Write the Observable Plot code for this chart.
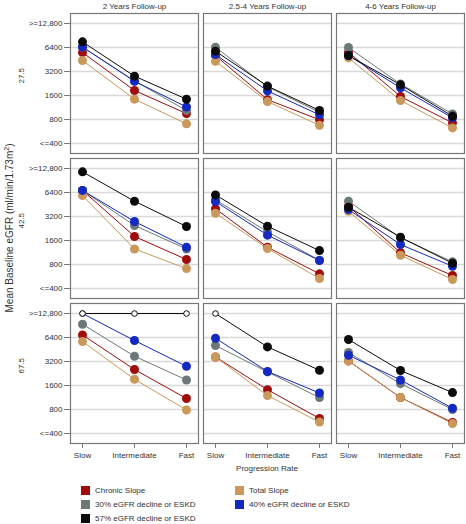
<!DOCTYPE html>
<html><head><meta charset="utf-8">
<script src="https://cdn.jsdelivr.net/npm/d3@7"></script>
<script src="https://cdn.jsdelivr.net/npm/@observablehq/plot@0.6"></script>
<style>
body{margin:0;background:#fff;font-family:"Liberation Sans",Arial,sans-serif;}
#chart{position:relative;width:466px;height:524px;}
#chart svg{position:absolute;left:0;top:0;}
.legend{position:absolute;left:81px;top:486px;display:grid;grid-template-columns:154px 200px;row-gap:5px;font-size:8px;color:#333;}
.item{display:flex;align-items:center;height:9px;white-space:nowrap;}
.sw{width:9px;height:9px;margin-right:5px;flex:none;}
</style></head><body><div id="chart"></div>
<script>
const columns = ["2 Years Follow-up", "2.5-4 Years Follow-up", "4-6 Years Follow-up"];
const rows = ["27.5", "42.5", "67.5"];
const rates = ["Slow", "Intermediate", "Fast"];
const yTicks = [400, 800, 1600, 3200, 6400, 12800];
const cap = 12800;

// series in drawing / legend order
const seriesNames = ["Chronic Slope", "Total Slope", "30% eGFR decline or ESKD", "40% eGFR decline or ESKD", "57% eGFR decline or ESKD"];
const seriesColors = ["#a00c0c", "#c9985a", "#6d7878", "#1428c2", "#0b0b0b"];

// each: 9 panels (row-major: 27.5 → 67.5, columns left → right), values for Slow, Intermediate, Fast
const chronicSlope = [
  [5540, 1850, 950], [5080, 1420, 795], [5590, 1555, 727],
  [6800, 1800, 925], [4000, 1320, 612], [4310, 1124, 582],
  [6900, 2540, 1100], [3650, 1420, 617], [3255, 1130, 550]
];
const totalSlope = [
  [4400, 1440, 707], [4310, 1345, 677], [4750, 1384, 628],
  [5870, 1255, 711], [3520, 1270, 534], [3730, 1047, 519],
  [5700, 1920, 790], [3650, 1196, 558], [3255, 1130, 533]
];
const decline30 = [
  [6500, 2440, 1040], [6450, 2060, 987], [6400, 2230, 942],
  [6800, 2470, 1255], [5200, 2060, 906], [4980, 1730, 865],
  [9400, 3730, 1880], [5080, 2370, 1130], [4150, 1690, 800]
];
const decline40 = [
  [6500, 2420, 1150], [5220, 1830, 916], [5080, 2000, 841],
  [6800, 2770, 1320], [4940, 1870, 900], [3920, 1425, 762],
  [12800, 5870, 2790], [6270, 2400, 1290], [3840, 1880, 830]
];
const decline57 = [
  [7540, 2800, 1440], [5760, 2100, 1040], [5080, 2180, 881],
  [11640, 4980, 2400], [5980, 2420, 1196], [4190, 1760, 830],
  [12800, 12800, 12800], [12800, 4880, 2490], [6040, 2470, 1306]
];
const seriesValues = [chronicSlope, totalSlope, decline30, decline40, decline57];

const records = [];
seriesNames.forEach((s, si) => {
  seriesValues[si].forEach((triple, k) => {
    const row = rows[Math.floor(k / 3)], col = columns[k % 3];
    triple.forEach((v, j) => records.push({series: s, row, col, rate: rates[j], value: v, capped: v >= cap}));
  });
});

const tickFormat = v => v === 400 ? "<=400" : v === 12800 ? ">=12,800" : String(v);
const enc = {fx: "col", fy: "row", x: "rate", y: "value"};

const chart = Plot.plot({
  width: 466, height: 476,
  marginTop: 13, marginLeft: 69, marginRight: 1, marginBottom: 33,
  style: {fontFamily: "Liberation Sans, Arial, sans-serif", fontSize: "8px", color: "#333", background: "#fff"},
  fx: {domain: columns, paddingInner: 0.035, paddingOuter: 0, label: null},
  fy: {domain: rows, paddingInner: 0.035, paddingOuter: 0, axis: null, label: null},
  x: {type: "point", domain: rates, padding: 0.21, label: null},
  y: {type: "log", domain: [300, 17100], label: null},
  color: {domain: seriesNames, range: seriesColors},
  marks: [
    Plot.gridY(yTicks, {stroke: "#d9d9d9", strokeOpacity: 1, strokeWidth: 1.5}),
    Plot.frame({stroke: "#777", strokeWidth: 1.2}),
    Plot.axisFx({anchor: "top", tickSize: 0, tickPadding: 5, label: null}),
    Plot.axisY(yTicks, {anchor: "left", tickSize: 6, tickFormat: () => "", label: null, stroke: "#777"}),
    Plot.text(yTicks, {fx: () => columns[0], y: d => d, text: tickFormat, frameAnchor: "left", textAnchor: "end", dx: -8, fill: "#333"}),
    Plot.axisX({anchor: "bottom", tickSize: 5, tickPadding: 4, label: null, stroke: "#777", fill: "#333"}),
    Plot.text(rows, {fx: () => columns[0], fy: d => d, text: d => d, frameAnchor: "left", rotate: -90, dx: -49, fill: "#333"}),
    Plot.line(records, {...enc, z: "series", stroke: "series", strokeWidth: 1}),
    Plot.dot(records.filter(d => !d.capped), {...enc, fill: "series", r: 4.5}),
    Plot.dot(records.filter(d => d.capped), {...enc, stroke: "series", fill: "white", r: 2.8, strokeWidth: 1})
  ]
});

const root = document.getElementById("chart");
root.appendChild(chart);
const svg = d3.select(chart);
const yt = svg.append("text")
  .attr("transform", "translate(13,228) rotate(-90)")
  .attr("text-anchor", "middle").attr("font-size", 10).attr("fill", "#333")
  .text("Mean Baseline eGFR (ml/min/1.73m");
yt.append("tspan").attr("font-size", 7).attr("dy", -4).text("2");
yt.append("tspan").attr("dy", 4).text(")");
svg.append("text").attr("x", 267).attr("y", 471).attr("text-anchor", "middle")
  .attr("font-size", 8).attr("fill", "#333").text("Progression Rate");

const legend = document.createElement("div");
legend.className = "legend";
seriesNames.forEach((name, i) => {
  const item = document.createElement("div");
  item.className = "item";
  const sw = document.createElement("span");
  sw.className = "sw";
  sw.style.background = seriesColors[i];
  const t = document.createElement("span");
  t.textContent = name;
  item.appendChild(sw); item.appendChild(t);
  legend.appendChild(item);
});
root.appendChild(legend);
</script></body></html>
